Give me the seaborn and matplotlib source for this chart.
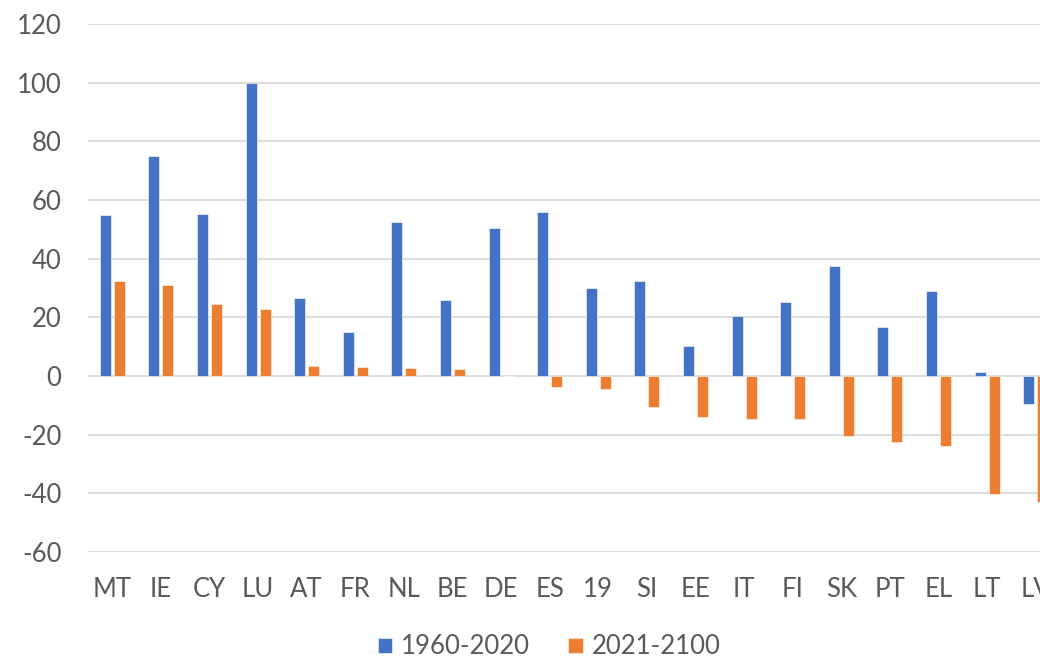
import matplotlib
matplotlib.use("Agg")
import matplotlib.pyplot as plt
import seaborn as sns
import pandas as pd

categories = ["MT", "IE", "CY", "LU", "AT", "FR", "NL", "BE", "DE", "ES",
              "19", "SI", "EE", "IT", "FI", "SK", "PT", "EL", "LT", "LV"]
s1960_2020 = [55.0, 75.0, 55.2, 100.0, 26.6, 15.0, 52.5, 26.0, 50.4, 56.0,
              30.1, 32.4, 10.1, 20.4, 25.1, 37.4, 16.7, 29.0, 1.2, -9.4]
s2021_2100 = [32.4, 31.0, 24.6, 22.9, 3.3, 3.2, 2.6, 2.3, 0.0, -3.9,
              -4.3, -10.5, -14.0, -14.6, -14.8, -20.4, -22.5, -23.8, -40.1, -42.9]
series_names = ["1960-2020", "2021-2100"]
yticks = [-60, -40, -20, 0, 20, 40, 60, 80, 100, 120]

df = pd.DataFrame({
    "cat": categories * 2,
    "val": s1960_2020 + s2021_2100,
    "series": [series_names[0]] * len(categories) + [series_names[1]] * len(categories),
})

sns.set_theme(style="white")
plt.rcParams["font.family"] = ["Lato", "DejaVu Sans"]
plt.rcParams["axes.unicode_minus"] = False

fig = plt.figure(figsize=(10.4, 6.6), dpi=100)
ax = fig.add_axes([88 / 1040, 108 / 660, 1 - 88 / 1040, 528 / 660])

sns.barplot(data=df, x="cat", y="val", hue="series", order=categories,
            hue_order=series_names, palette=["#4472C4", "#ED7D31"],
            width=0.576, gap=0.215, saturation=1, ax=ax, errorbar=None,
            edgecolor="white", linewidth=0.4)

ax.set_ylim(-60, 120)
ax.set_yticks(yticks)
ax.set_xlim(-0.5, 19.09)
ax.yaxis.grid(True, color="#D9D9D9", linewidth=1.3)
ax.set_axisbelow(True)
for sp in ax.spines.values():
    sp.set_visible(False)
ax.set_xlabel("")
ax.set_ylabel("")
ax.tick_params(axis="y", length=0, pad=19, labelsize=18.5, labelcolor="#595959")
ax.tick_params(axis="x", length=0, pad=18, labelsize=18.5, labelcolor="#595959")

handles, labels = ax.get_legend_handles_labels()
ax.get_legend().remove()
fig.legend(handles, labels, loc="center", bbox_to_anchor=(0.528, 1 - 647 / 660),
           ncol=2, frameon=False, fontsize=18.5, labelcolor="#595959",
           handlelength=0.55, handleheight=0.55, handletextpad=0.35, columnspacing=1.5,
           bbox_transform=fig.transFigure, borderpad=0, borderaxespad=0)

fig.savefig("out.png", dpi=100)
